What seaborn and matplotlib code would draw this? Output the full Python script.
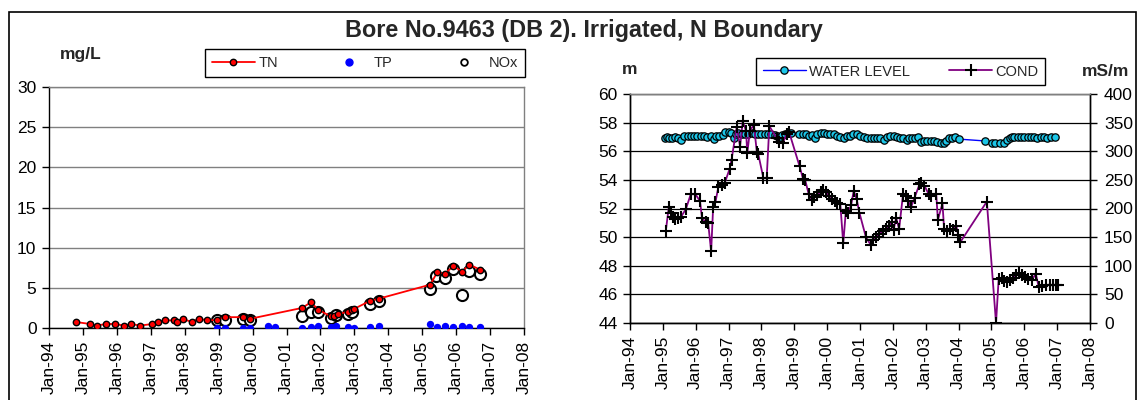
import matplotlib
matplotlib.use("Agg")
import matplotlib.pyplot as plt
import seaborn as sns
import pandas as pd
from matplotlib.patches import Rectangle
from matplotlib.lines import Line2D

# ---------------- data ----------------
title = "Bore No.9463 (DB 2). Irrigated, N Boundary"
year_ticks = list(range(1994, 2009))
year_labels = ["Jan-94", "Jan-95", "Jan-96", "Jan-97", "Jan-98", "Jan-99", "Jan-00",
               "Jan-01", "Jan-02", "Jan-03", "Jan-04", "Jan-05", "Jan-06", "Jan-07", "Jan-08"]

tn_year = [1994.79, 1995.21, 1995.40, 1995.68, 1995.94, 1996.21, 1996.42, 1996.68, 1997.05,
           1997.20, 1997.41, 1997.68, 1997.78, 1997.94, 1998.20, 1998.41, 1998.67, 1998.94,
           1999.20, 1999.72, 1999.93, 2001.46, 2001.72, 2001.93, 2002.30, 2002.40, 2002.51,
           2002.82, 2002.93, 2002.98, 2003.45, 2003.72, 2005.24, 2005.45, 2005.66, 2005.92,
           2006.18, 2006.39, 2006.71]
tn = [0.75, 0.5, 0.3, 0.5, 0.5, 0.3, 0.5, 0.3, 0.5, 0.75, 0.95, 0.95, 0.75, 1.15, 0.75, 1.15,
      0.95, 1.0, 1.35, 1.35, 1.15, 2.5, 3.2, 2.3, 1.45, 1.5, 1.7, 2.05, 2.3, 2.35, 3.35, 3.65,
      5.4, 7.0, 6.75, 7.7, 7.0, 7.9, 7.25]

nox_year = [1998.94, 1999.20, 1999.72, 1999.93, 2001.46, 2001.72, 2001.93, 2002.30, 2002.45,
            2002.82, 2002.93, 2003.45, 2003.72, 2005.24, 2005.42, 2005.66, 2005.92, 2006.18,
            2006.39, 2006.71]
nox = [1.05, 1.05, 1.15, 0.95, 1.45, 2.05, 2.05, 1.3, 1.6, 1.8, 2.0, 2.95, 3.35, 4.9, 6.5,
       6.2, 7.4, 4.05, 7.1, 6.7]

tp_year = [1998.94, 1999.20, 1999.72, 1999.93, 2000.46, 2000.67, 2001.46, 2001.72, 2001.93,
           2002.30, 2002.45, 2002.82, 2002.98, 2003.45, 2003.72, 2005.24, 2005.45, 2005.66,
           2005.92, 2006.18, 2006.39, 2006.71]
tp = [0.05, 0.05, 0.05, 0.05, 0.25, 0.1, 0.05, 0.1, 0.25, 0.1, 0.25, 0.1, 0.05, 0.1, 0.25,
      0.45, 0.1, 0.25, 0.1, 0.25, 0.1, 0.1]

wl_year = [1995.05, 1995.12, 1995.20, 1995.28, 1995.36, 1995.45, 1995.55, 1995.65, 1995.75,
           1995.85, 1995.95, 1996.05, 1996.15, 1996.25, 1996.35, 1996.45, 1996.55, 1996.62,
           1996.72, 1996.82, 1996.90, 1997.00, 1997.08, 1997.15, 1997.22, 1997.30, 1997.40,
           1997.50, 1997.60, 1997.70, 1997.80, 1997.90, 1998.00, 1998.10, 1998.20, 1998.30,
           1998.40, 1998.48, 1998.56, 1998.64, 1998.72, 1998.80, 1998.90, 1999.15, 1999.25,
           1999.35, 1999.45, 1999.55, 1999.62, 1999.70, 1999.80, 1999.90, 2000.00, 2000.10,
           2000.20, 2000.30, 2000.40, 2000.50, 2000.60, 2000.70, 2000.80, 2000.90, 2001.00,
           2001.12, 2001.22, 2001.32, 2001.42, 2001.52, 2001.62, 2001.72, 2001.82, 2001.92,
           2002.02, 2002.12, 2002.22, 2002.32, 2002.42, 2002.50, 2002.58, 2002.68, 2002.78,
           2002.87, 2002.95, 2003.05, 2003.15, 2003.25, 2003.35, 2003.45, 2003.55, 2003.62,
           2003.70, 2003.80, 2003.90, 2004.00, 2004.80, 2005.01, 2005.12, 2005.25, 2005.37,
           2005.47, 2005.55, 2005.62, 2005.70, 2005.80, 2005.90, 2006.00, 2006.10, 2006.20,
           2006.30, 2006.40, 2006.50, 2006.60, 2006.70, 2006.80, 2006.93]
wl = [56.95, 57.0, 56.95, 56.95, 57.0, 56.9, 56.8, 57.05, 57.05, 57.05, 57.05, 57.1, 57.1,
      57.05, 57.0, 57.05, 56.85, 57.1, 57.05, 57.15, 57.35, 57.35, 57.3, 56.95, 57.2, 57.25,
      57.2, 57.2, 57.2, 57.25, 57.2, 57.2, 57.2, 57.2, 57.2, 57.2, 57.15, 57.1, 57.0, 57.15,
      57.2, 57.25, 57.3, 57.2, 57.2, 57.2, 57.1, 57.15, 56.95, 57.2, 57.3, 57.25, 57.2, 57.2,
      57.2, 57.1, 57.0, 56.95, 57.1, 57.1, 57.2, 57.2, 57.1, 57.0, 56.95, 56.95, 56.95, 56.95,
      56.95, 56.8, 57.0, 57.1, 57.05, 57.0, 56.95, 56.95, 56.8, 56.95, 56.9, 56.95, 57.0,
      56.65, 56.7, 56.7, 56.75, 56.7, 56.65, 56.55, 56.55, 56.75, 56.9, 56.95, 57.0, 56.85,
      56.72, 56.6, 56.55, 56.55, 56.6, 56.8, 56.9, 56.98, 57.0, 57.0, 57.0, 57.0, 57.0, 57.0,
      57.0, 56.9, 57.0, 57.0, 56.95, 57.0, 56.98]

cond_year = [1995.09, 1995.18, 1995.24, 1995.30, 1995.38, 1995.47, 1995.56, 1995.70, 1995.85,
             1995.99, 1996.13, 1996.19, 1996.30, 1996.38, 1996.47, 1996.53, 1996.60, 1996.69,
             1996.80, 1996.88, 1997.03, 1997.09, 1997.25, 1997.35, 1997.43, 1997.53, 1997.57,
             1997.65, 1997.77, 1997.86, 1997.90, 1998.06, 1998.16, 1998.24, 1998.46, 1998.54,
             1998.65, 1998.77, 1998.84, 1999.16, 1999.27, 1999.33, 1999.44, 1999.53, 1999.60,
             1999.70, 1999.80, 1999.88, 1999.97, 2000.06, 2000.15, 2000.23, 2000.31, 2000.40,
             2000.49, 2000.57, 2000.64, 2000.73, 2000.81, 2000.90, 2000.98, 2001.18, 2001.32,
             2001.41, 2001.50, 2001.59, 2001.69, 2001.80, 2001.89, 2001.97, 2002.02, 2002.10,
             2002.19, 2002.31, 2002.39, 2002.47, 2002.55, 2002.66, 2002.81, 2002.87, 2002.96,
             2003.09, 2003.15, 2003.32, 2003.37, 2003.51, 2003.56, 2003.65, 2003.74, 2003.82,
             2003.93, 2003.99, 2004.05, 2004.86, 2005.14, 2005.22, 2005.31, 2005.39, 2005.47,
             2005.56, 2005.65, 2005.76, 2005.84, 2005.92, 2006.03, 2006.12, 2006.23, 2006.35,
             2006.44, 2006.55, 2006.66, 2006.77, 2006.88, 2006.96, 2007.04]
cond = [161, 202, 192, 186, 182, 184, 186, 199, 225, 225, 213, 184, 176, 174, 125, 202, 211,
        238, 241, 244, 269, 285, 343, 308, 352, 336, 297, 336, 346, 299, 296, 253, 253, 344,
        323, 317, 314, 331, 334, 274, 251, 250, 225, 215, 220, 224, 229, 233, 228, 222, 216,
        213, 209, 208, 139, 196, 193, 206, 231, 216, 193, 150, 137, 145, 151, 155, 161, 164,
        170, 176, 162, 184, 164, 225, 222, 213, 202, 219, 242, 245, 240, 225, 222, 225, 180,
        209, 164, 161, 164, 162, 170, 153, 141, 212, 0, 77, 79, 74, 71, 75, 79, 83, 87, 83,
        80, 77, 75, 86, 63, 64, 66, 67, 66, 67, 66]

df_tn = pd.DataFrame({"year": tn_year, "value": tn})
df_nox = pd.DataFrame({"year": nox_year, "value": nox})
df_tp = pd.DataFrame({"year": tp_year, "value": tp})
df_wl = pd.DataFrame({"year": wl_year, "value": wl})
df_cond = pd.DataFrame({"year": cond_year, "value": cond})

# ---------------- style ----------------
sns.set_theme(style="ticks")
plt.rcParams["font.family"] = ["Liberation Sans", "DejaVu Sans"]

W, H = 1137, 400
fig = plt.figure(figsize=(W / 100, H / 100), dpi=100)
fig.patch.set_facecolor("white")

def fx(px):
    return px / W

def fy(py):
    return 1 - py / H

# outer frame
fig.patches.append(Rectangle((fx(9), -0.1), fx(1136) - fx(9), fy(12) + 0.1,
                             transform=fig.transFigure, fill=False,
                             edgecolor="black", linewidth=1.2, zorder=0))

fig.text(fx(584), fy(30), title, ha="center", va="center",
         fontsize=16.8, fontweight="bold")

# ---------------- left chart ----------------
ax1 = fig.add_axes([fx(49), fy(328), fx(524) - fx(49), fy(87) - fy(328)])
sns.scatterplot(data=df_nox, x="year", y="value", ax=ax1, s=64, color="white",
                edgecolor="black", linewidth=1.5, zorder=3, legend=False)
sns.lineplot(data=df_tn, x="year", y="value", ax=ax1, color="red", linewidth=1.3,
             marker="o", markersize=4.6, markerfacecolor="red",
             markeredgecolor="black", markeredgewidth=1.0, estimator=None,
             errorbar=None, zorder=4, legend=False)
sns.scatterplot(data=df_tp, x="year", y="value", ax=ax1, s=28, color="blue",
                linewidth=0, zorder=5, legend=False)

ax1.set_xlim(1994, 2008)
ax1.set_ylim(0, 30)
ax1.set_yticks([0, 5, 10, 15, 20, 25, 30])
ax1.set_xticks(year_ticks)
ax1.set_xticklabels(year_labels, rotation=90)
ax1.yaxis.grid(True, color="#808080", linewidth=1)
ax1.set_axisbelow(True)
ax1.set_xlabel("")
ax1.set_ylabel("")
for side in ["top", "right"]:
    ax1.spines[side].set_color("#808080")
    ax1.spines[side].set_linewidth(1)
for side in ["left", "bottom"]:
    ax1.spines[side].set_color("black")
    ax1.spines[side].set_linewidth(1)
ax1.tick_params(axis="both", direction="out", length=5, width=1, color="black",
                labelsize=12.5, labelcolor="black", pad=4)

fig.text(fx(81), fy(55), "mg/L", ha="center", va="center", fontsize=12.5, fontweight="bold")

h_tn = Line2D([], [], color="red", linewidth=1.3, marker="o", markersize=4.6,
              markerfacecolor="red", markeredgecolor="black")
h_tp = Line2D([], [], linestyle="none", marker="o", markersize=5, color="blue")
h_nox = Line2D([], [], linestyle="none", marker="o", markersize=4.8, markerfacecolor="white",
               markeredgecolor="black", markeredgewidth=1.3)
leg1 = fig.legend([h_tn, h_tp, h_nox], ["TN", "TP", "NOx"], loc="center",
                  bbox_to_anchor=(fx(205), fy(79), fx(525) - fx(205), fy(47) - fy(79)),
                  bbox_transform=fig.transFigure, mode="expand", ncol=3,
                  fancybox=False, edgecolor="black", framealpha=1, fontsize=10.5,
                  handlelength=3.0, handletextpad=0.2, borderpad=0.45, borderaxespad=0)
leg1.get_frame().set_linewidth(1.0)

# ---------------- right chart ----------------
ax2 = fig.add_axes([fx(630), fy(323), fx(1090) - fx(630), fy(94) - fy(323)])
ax3 = ax2.twinx()
sns.lineplot(data=df_wl, x="year", y="value", ax=ax2, color="#0000FF", linewidth=1.0,
             marker="o", markersize=5.3, markerfacecolor="#1CC6E8",
             markeredgecolor="black", markeredgewidth=0.9, estimator=None,
             errorbar=None, legend=False)
sns.lineplot(data=df_cond, x="year", y="value", ax=ax3, color="#800080", linewidth=1.3,
             marker="+", markersize=9, markeredgecolor="black", markeredgewidth=1.5,
             estimator=None, errorbar=None, legend=False)

ax2.set_xlim(1994, 2008)
ax2.set_ylim(44, 60)
ax3.set_ylim(0, 400)
ax2.set_yticks(list(range(44, 61, 2)))
ax3.set_yticks(list(range(0, 401, 50)))
ax2.set_xticks(year_ticks)
ax2.set_xticklabels(year_labels, rotation=90)
ax2.yaxis.grid(True, color="black", linewidth=0.9)
ax2.set_axisbelow(True)
for a in (ax2, ax3):
    a.set_xlabel("")
    a.set_ylabel("")
    for side in ["left", "right", "bottom"]:
        a.spines[side].set_color("black")
        a.spines[side].set_linewidth(1)
    a.spines["top"].set_color("#808080")
    a.spines["top"].set_linewidth(1)
ax2.tick_params(axis="both", direction="out", length=5, width=1, color="black",
                labelsize=12.5, labelcolor="black", pad=4)
ax3.tick_params(axis="y", direction="out", length=5, width=1, color="black",
                labelsize=12.5, labelcolor="black", pad=5, right=True, left=False)

fig.text(fx(630), fy(70), "m", ha="center", va="center", fontsize=12.5, fontweight="bold")
fig.text(fx(1106), fy(71), "mS/m", ha="center", va="center", fontsize=12.5, fontweight="bold")

h_wl = Line2D([], [], color="#0000FF", linewidth=1.0, marker="o", markersize=5.3,
              markerfacecolor="#1CC6E8", markeredgecolor="black", markeredgewidth=0.9)
h_cond = Line2D([], [], color="#800080", linewidth=1.3, marker="+", markersize=8,
                markeredgecolor="black", markeredgewidth=1.5)
leg2 = fig.legend([h_wl, h_cond], ["WATER LEVEL", "COND"], loc="center",
                  bbox_to_anchor=(fx(756), fy(87), fx(1045) - fx(756), fy(56) - fy(87)),
                  bbox_transform=fig.transFigure, mode="expand", ncol=2,
                  fancybox=False, edgecolor="black", framealpha=1, fontsize=10.5,
                  handlelength=3.0, handletextpad=0.2, borderpad=0.45, borderaxespad=0)
leg2.get_frame().set_linewidth(1.0)

fig.savefig("out.png", dpi=100, facecolor="white")
